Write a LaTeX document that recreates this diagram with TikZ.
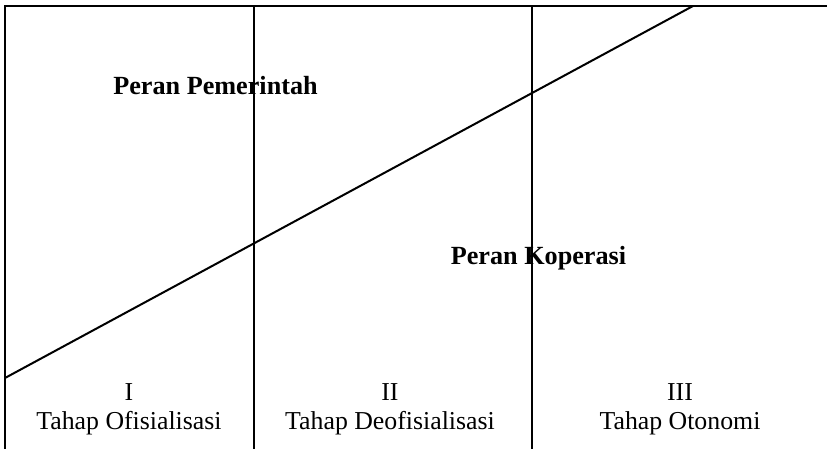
\documentclass[tikz,border=0pt]{standalone}
\usepackage{fontspec}
\setmainfont{Liberation Serif}
\usepackage{tikz}
\usetikzlibrary{positioning, calc}

\begin{document}
\begin{tikzpicture}[
          x=0.5pt, y=-0.5pt,
          line width=1pt,
          every node/.style={inner sep=0pt, anchor=base, font=\fontsize{12.9}{15}\selectfont},
          peran/.style={font=\fontsize{13.1}{15}\selectfont\bfseries}
        ]
          \useasboundingbox (0,0) rectangle (827,449);
          % frame and stage borders
          \coordinate (tl) at (5,6);
          \coordinate (tr) at (827,6);
          \coordinate (bl) at (5,449);
          \draw (bl) -- (tl) -- (tr);
          \draw (254,6) -- (254,449);
          \draw (532,6) -- (532,449);
          % dividing line
          \coordinate (start) at (5,378);
          \coordinate (end) at (693,6);
          \draw (start) -- (end);
          \node[peran] (pemerintah) at (215.5,95) {Peran Pemerintah};
          \node[peran] (koperasi) at (538.5,265) {Peran Koperasi};
          % stages
          \foreach \num/\name/\x [count=\i] in {I/Tahap Ofisialisasi/129,
                                                II/Tahap Deofisialisasi/390,
                                                III/Tahap Otonomi/680}{
            \node (num\i) at (\x,401) {\num};
            \node (tahap\i) at (\x,430) {\name};
          }
        \end{tikzpicture}
\end{document}
